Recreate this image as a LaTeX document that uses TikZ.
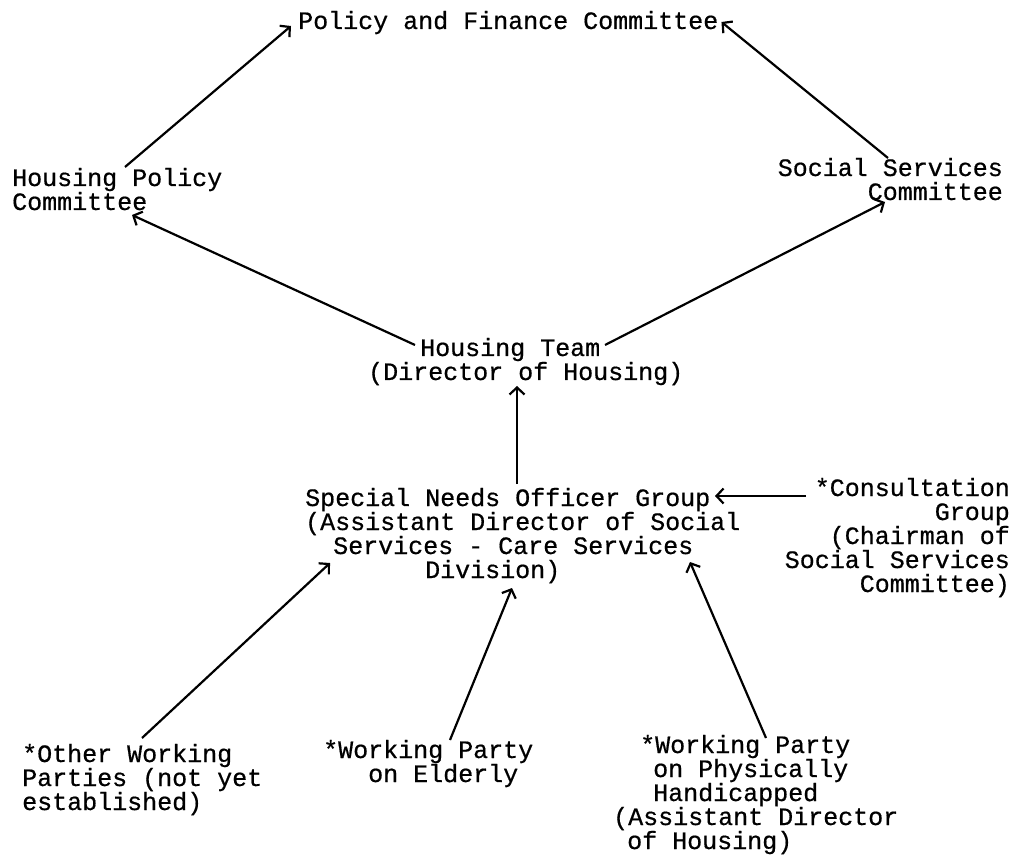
\documentclass[tikz,border=0pt]{standalone}
\usepackage{fontspec}
\usepackage{tikz}
\usetikzlibrary{arrows.meta}
\newfontfamily\typew{Liberation Mono}[FakeBold=0.6]
\newcommand{\ind}[1]{\hspace*{#1pt}}

\begin{document}
\begin{tikzpicture}[
  x=1pt, y=-1pt,
  font=\typew\fontsize{25}{24}\selectfont,
  arr/.style={-{Straight Barb[length=7pt, width=15pt]}, line width=2.2pt},
  txt/.style={inner sep=0pt, align=left, anchor=base west},
  txtr/.style={inner sep=0pt, align=right, anchor=base east},
]
\useasboundingbox (0,0) rectangle (1012,858);

% committees
\node[txt] (pfc) at (298,29) {Policy and Finance Committee};
\node[txt] (hpc) at (12,210) {Housing Policy\\Committee};
\node[txtr] (ssc) at (1003,200) {Social Services\\Committee};

% officers
\node[txt] (team) at (368,380) {\ind{52}Housing Team\\(Director of Housing)};
\node[txt] (sno) at (305,578)
  {Special Needs Officer Group\\(Assistant Director of Social\\
   \ind{28}Services - Care Services\\\ind{120}Division)};
\node[txtr] (cons) at (1010,592)
  {*Consultation\\Group\\(Chairman of\\Social Services\\Committee)};

% working parties
\node[txt] (owp) at (22,810) {*Other Working\\Parties (not yet\\established)};
\node[txt] (wpe) at (323,782) {*Working Party\\\ind{45}on Elderly};
\node[txt] (wpph) at (613,849)
  {\ind{27}*Working Party\\\ind{40}on Physically\\\ind{40}Handicapped\\
   (Assistant Director\\\ind{14}of Housing)};

\draw[arr] ([shift={(113,-43)}]hpc.base west) -- ([shift={(-7,-3)}]pfc.base west);
\draw[arr] ([shift={(-115,-42)}]ssc.base east) -- ([shift={(3,-7)}]pfc.base east);
\draw[arr] ([shift={(47,-35)}]team.base west) -- ([shift={(120,5)}]hpc.base west);
\draw[arr] ([shift={(237,-35)}]team.base west) -- ([shift={(-118,2)}]ssc.base east);
\draw[arr] ([shift={(212,-94)}]sno.base west) -- ([shift={(149,6)}]team.base west);
\draw[arr] ([shift={(-204,-96)}]cons.base east) -- ([shift={(410,-82)}]sno.base west);
\draw[arr] ([shift={(120,-72)}]owp.base west) -- ([shift={(25,-15)}]sno.base west);
\draw[arr] ([shift={(127,-42)}]wpe.base west) -- ([shift={(207,10)}]sno.base west);
\draw[arr] ([shift={(153,-111)}]wpph.base west) -- ([shift={(385,-16)}]sno.base west);
\end{tikzpicture}
\end{document}
